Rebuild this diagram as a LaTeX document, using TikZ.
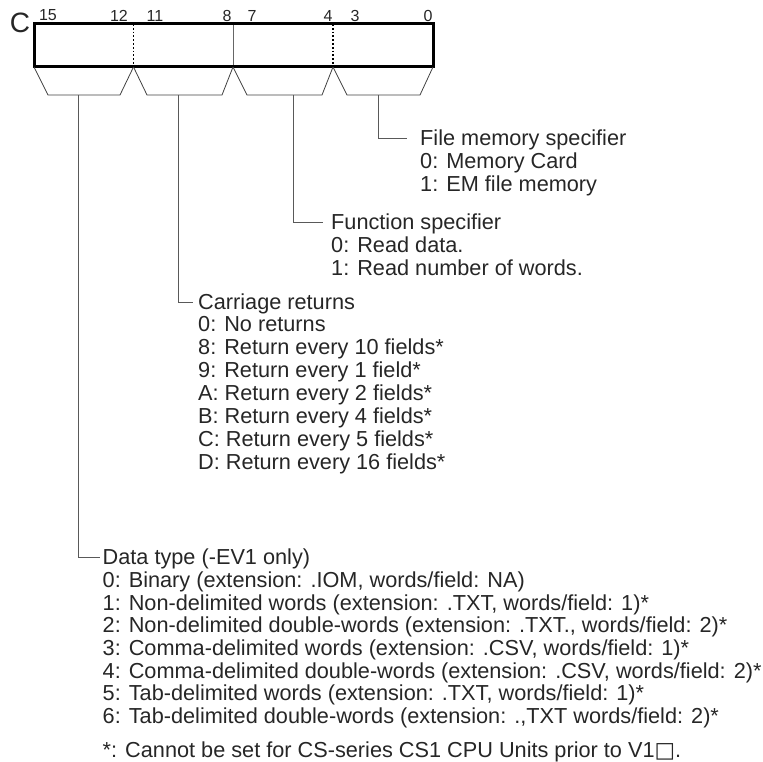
\documentclass[tikz,border=0pt]{standalone}
\usepackage{fontspec}
\setmainfont{Liberation Sans}
\newfontfamily\symfont{DejaVu Sans}
\usetikzlibrary{positioning}

\begin{document}
\begin{tikzpicture}[x=1pt, y=-1pt,
	every node/.style={inner sep=0pt, text=black!85},
	bitno/.style={font=\fontsize{16}{16}\selectfont},
	head/.style={anchor=west, text height=15.5pt, text depth=0pt, font=\fontsize{21.7}{22.7}\selectfont},
	body/.style={anchor=north west, align=left, font=\fontsize{21.7}{22.7}\selectfont, execute at begin node=\strut},
	stem/.style={black!65, line width=0.9pt},
	trap/.style={black!75, line width=0.8pt}]
	\useasboundingbox (0,0) rectangle (763,762);
	% the word C and its bits
	\coordinate (nw) at (34,24);
	\coordinate (se) at (433,67);
	\draw[black!60, line width=0.8pt] (233,24) -- (233,67);
	\draw[dotted, line width=1.8pt] (133.5,24) -- (133.5,67);
	\draw[dotted, line width=1.8pt] (333,24) -- (333,67);
	\draw[line width=3pt] (nw) rectangle (se);
	\node[font=\fontsize{28}{28}\selectfont] (reg) at (20,22.5) {C};
	\node[bitno] (b15) at (48,15.5) {15};
	\node[bitno] (b12) at (119,15.5) {12};
	\node[bitno] (b11) at (155,15.5) {11};
	\node[bitno] (b8) at (227,15.5) {8};
	\node[bitno] (b7) at (252,15.5) {7};
	\node[bitno] (b4) at (328,15.5) {4};
	\node[bitno] (b3) at (355,15.5) {3};
	\node[bitno] (b0) at (428,15.5) {0};
	% trapezoids under each digit
	\draw[trap] (34,67) -- (48,95) -- (120,95) -- (133.5,67);
	\draw[trap] (133.5,67) -- (147,95) -- (222,95) -- (233,67);
	\draw[trap] (233,67) -- (247,95) -- (322,95) -- (333,67);
	\draw[trap] (333,67) -- (347,95) -- (420,95) -- (433,67);
	\coordinate (t1) at (78,95);
	\coordinate (t2) at (178,95);
	\coordinate (t3) at (293,95);
	\coordinate (t4) at (378,95);
	% descriptions
	\node[head] (fm) at (420,138) {File memory specifier};
	\node[body] (fmlist) at ([yshift=-6.8pt]fm.base west) {0: Memory Card\\1: EM file memory};
	\node[head] (fn) at (331,222) {Function specifier};
	\node[body] (fnlist) at ([yshift=-6.8pt]fn.base west) {0: Read data.\\1: Read number of words.};
	\node[head] (cr) at (198,302) {Carriage returns};
	\node[body, font=\fontsize{21.7}{22.85}\selectfont] (crlist) at ([yshift=-6.85pt]cr.base west) {0: No returns\\8: Return every 10 fields*\\9: Return every 1 field*\\A: Return every 2 fields*\\B: Return every 4 fields*\\C: Return every 5 fields*\\D: Return every 16 fields*};
	\node[head] (dt) at (102.5,557) {Data type (-EV1 only)};
	\node[body] (dtlist) at ([yshift=-6.8pt]dt.base west) {0: Binary (extension: .IOM, words/field: NA)\\1: Non-delimited words (extension: .TXT, words/field: 1)*\\2: Non-delimited double-words (extension: .TXT., words/field: 2)*\\3: Comma-delimited words (extension: .CSV, words/field: 1)*\\4: Comma-delimited double-words (extension: .CSV, words/field: 2)*\\5: Tab-delimited words (extension: .TXT, words/field: 1)*\\6: Tab-delimited double-words (extension: .,TXT words/field: 2)*};
	\node[head] (note) at (102.5,750) {*: Cannot be set for CS-series CS1 CPU Units prior to V1{\symfont □}.};
	% leaders
	\draw[stem, shorten >=13pt] (t4) |- (fm.west);
	\draw[stem, shorten >=8pt] (t3) |- (fn.west);
	\draw[stem, shorten >=5pt] (t2) |- (cr.west);
	\draw[stem, shorten >=3pt] (t1) |- (dt.west);
\end{tikzpicture}
\end{document}
